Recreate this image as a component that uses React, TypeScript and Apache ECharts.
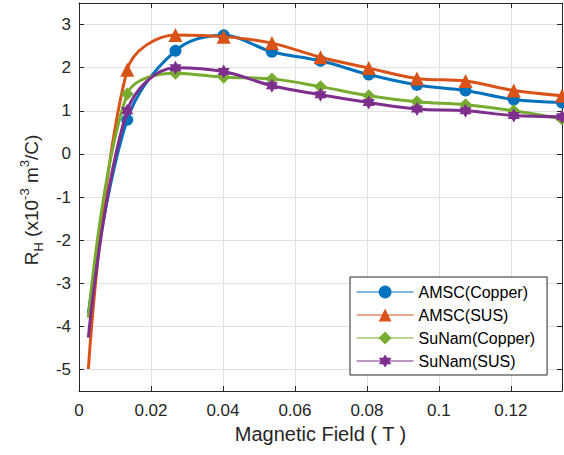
import React, { useEffect, useRef } from "react";
import * as echarts from "echarts";

const fieldT = [0.0026, 0.0134, 0.0268, 0.0402, 0.0536, 0.0671, 0.0805, 0.0939, 0.1074, 0.1208, 0.1342];
const amscCopper = [-3.7, 0.79, 2.39, 2.75, 2.37, 2.16, 1.84, 1.6, 1.47, 1.26, 1.19];
const amscSUS = [-4.99, 1.95, 2.76, 2.72, 2.57, 2.24, 1.99, 1.75, 1.69, 1.47, 1.35];
const sunamCopper = [-3.8, 1.39, 1.87, 1.78, 1.74, 1.56, 1.35, 1.21, 1.14, 1.0, 0.81];
const sunamSUS = [-4.26, 1.0, 2.0, 1.91, 1.58, 1.37, 1.19, 1.04, 1.0, 0.89, 0.86];
const seriesNames = ["AMSC(Copper)", "AMSC(SUS)", "SuNam(Copper)", "SuNam(SUS)"];
const xTickValues = [0, 0.02, 0.04, 0.06, 0.08, 0.1, 0.12];

const colors = ["#0072BD", "#D95319", "#77AC30", "#7E2F8E"];
const hexagram =
  "path://M0,-10L2.887,-5L8.66,-5L5.774,0L8.66,5L2.887,5L0,10L-2.887,5L-8.66,5L-5.774,0L-8.66,-5L-2.887,-5Z";
const symbols = ["circle", "triangle", "diamond", hexagram];
const symbolSizes = [12, 14, 13, 14];
const FONT = "'Liberation Sans', Arial, Helvetica, sans-serif";
const INK = "#262626";

export default function App() {
  const ref = useRef<HTMLDivElement>(null);
  useEffect(() => {
    if (!ref.current) return;
    const chart = echarts.init(ref.current, undefined, { renderer: "svg" });
    const allData = [amscCopper, amscSUS, sunamCopper, sunamSUS];
    const series = allData.map((vals, i) => ({
      name: seriesNames[i],
      type: "line",
      xAxisIndex: 0,
      yAxisIndex: 0,
      data: fieldT.map((x, k) =>
        k === 0 ? { value: [x, vals[k]], symbol: "none" } : { value: [x, vals[k]] }
      ),
      smooth: 0.35,
      symbol: symbols[i],
      symbolSize: symbolSizes[i],
      symbolKeepAspect: true,
      showAllSymbol: true,
      lineStyle: { width: 3, color: colors[i] },
      itemStyle: { color: colors[i], borderWidth: 0 },
      emphasis: { disabled: true },
      z: 2 + i,
    }));
    const baseAxis = {
      axisLine: { show: true, onZero: false, lineStyle: { color: INK, width: 1 } },
      axisTick: { show: true, inside: true, length: 5, lineStyle: { color: INK } },
    };
    chart.setOption({
      animation: false,
      backgroundColor: "#ffffff",
      grid: { left: 79, top: 3, right: 2, bottom: 64, containLabel: false },
      xAxis: [
        {
          ...baseAxis,
          type: "value",
          min: 0,
          max: 0.1342,
          interval: 0.02,
          name: "Magnetic Field ( T )",
          nameLocation: "middle",
          nameGap: 33,
          nameTextStyle: { fontSize: 20, color: INK, fontFamily: FONT },
          axisLabel: {
            color: INK,
            fontSize: 17,
            fontFamily: FONT,
            margin: 11,
            showMaxLabel: false,
            formatter: (v: number) => {
              const t = xTickValues.find((q) => Math.abs(q - v) < 1e-9);
              return t === undefined ? "" : String(t);
            },
          },
          splitLine: { show: true, lineStyle: { color: "#e0e0e0", width: 1 } },
        },
        {
          ...baseAxis,
          type: "value",
          position: "top",
          min: 0,
          max: 0.1342,
          interval: 0.02,
          axisLabel: { show: false },
          splitLine: { show: false },
        },
      ],
      yAxis: [
        {
          ...baseAxis,
          type: "value",
          min: -5.5,
          max: 3.5,
          splitNumber: 9,
          name: "{a|R}{b|H}{a| (x10}{c|-3}{a| m}{c|3}{a|/C)}",
          nameLocation: "middle",
          nameGap: 33,
          nameTextStyle: {
            color: INK,
            fontFamily: FONT,
            padding: [0, 6, 0, 0],
            rich: {
              a: { fontSize: 19, color: INK, fontFamily: FONT, lineHeight: 27, verticalAlign: "middle" },
              b: { fontSize: 13, color: INK, fontFamily: FONT, lineHeight: 13, verticalAlign: "bottom" },
              c: { fontSize: 13, color: INK, fontFamily: FONT, lineHeight: 13, verticalAlign: "top" },
            },
          },
          axisLabel: {
            color: INK,
            fontSize: 17,
            fontFamily: FONT,
            margin: 8,
            showMinLabel: false,
            showMaxLabel: false,
          },
          splitLine: { show: true, lineStyle: { color: "#e0e0e0", width: 1 } },
        },
        {
          ...baseAxis,
          type: "value",
          position: "right",
          min: -5.5,
          max: 3.5,
          splitNumber: 9,
          axisLabel: { show: false },
          splitLine: { show: false },
        },
      ],
      legend: {
        data: seriesNames,
        orient: "vertical",
        left: 350,
        top: 277,
        padding: [7, 12, 6, 6],
        itemWidth: 57,
        itemHeight: 16,
        itemGap: 7,
        backgroundColor: "#ffffff",
        borderColor: INK,
        borderWidth: 1,
        borderRadius: 0,
        lineStyle: { width: 1.2 },
        textStyle: { fontSize: 16, color: "#000", fontFamily: FONT, lineHeight: 16 },
        selectedMode: false,
      },
      series,
    });
    return () => chart.dispose();
  }, []);
  return (
    <div
      ref={ref}
      style={{ position: "fixed", left: 0, top: 0, width: 564, height: 455 }}
    />
  );
}
